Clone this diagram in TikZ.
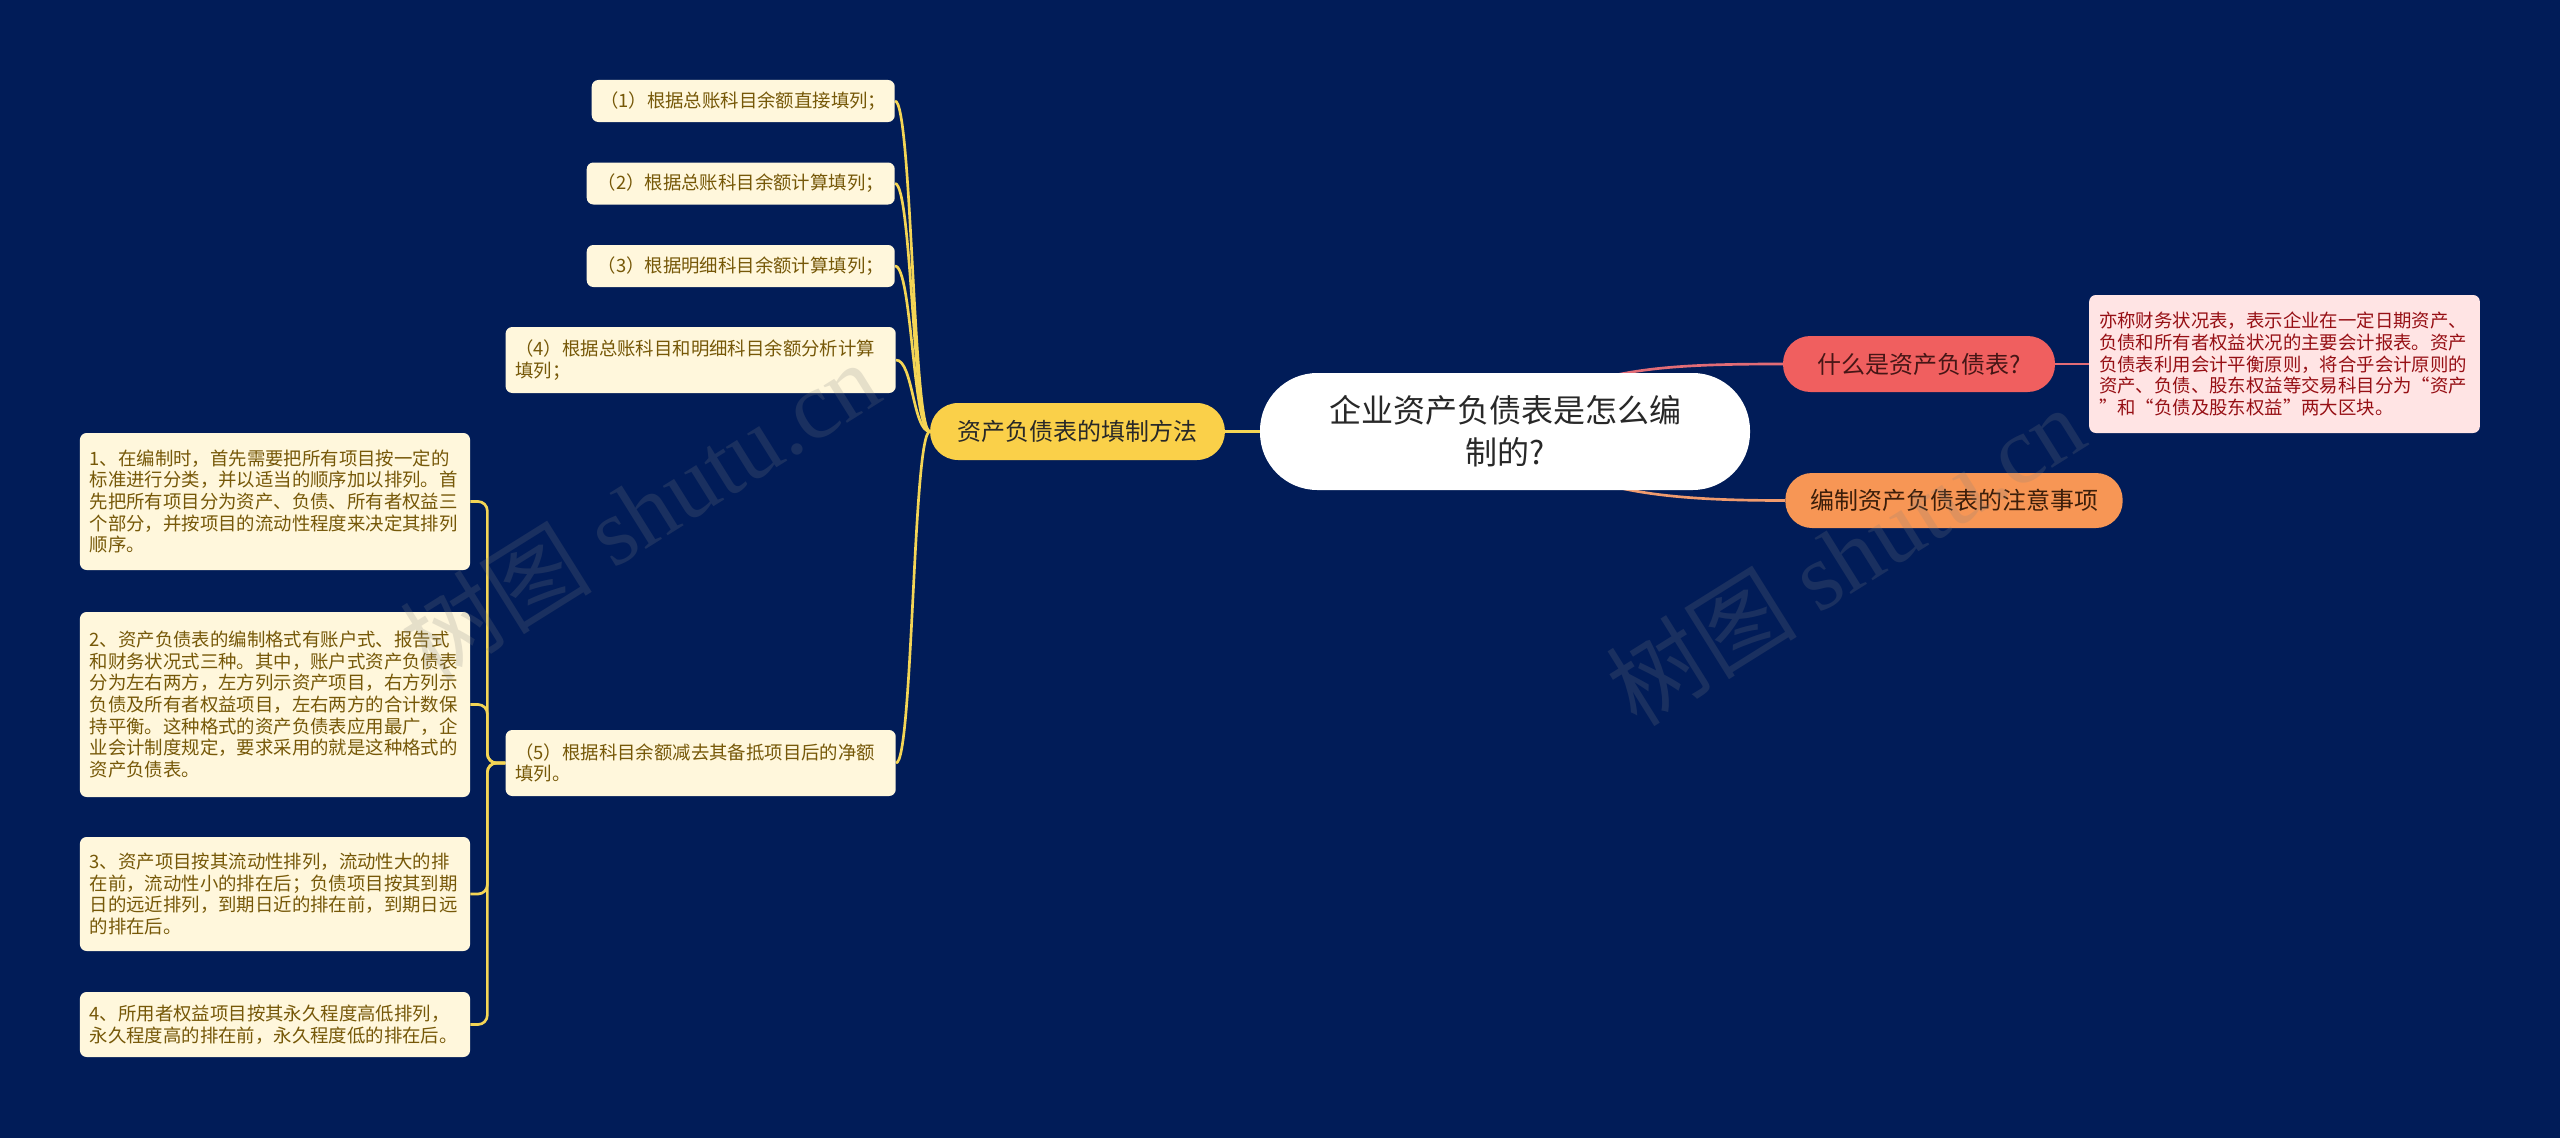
\documentclass[tikz,border=0pt]{standalone}
\usepackage{fontspec}
\setmainfont{Noto Sans CJK SC}
\newfontfamily\wmfont{Liberation Serif}
\definecolor{bgc}{RGB}{1,28,88}
\definecolor{yline}{RGB}{244,213,85}
\definecolor{mainfill}{RGB}{250,208,73}
\definecolor{leaffill}{RGB}{255,247,220}
\definecolor{leaftext}{RGB}{118,88,8}
\definecolor{textdark}{RGB}{40,40,40}
\definecolor{redfill}{RGB}{240,95,95}
\definecolor{redtext}{RGB}{70,22,22}
\definecolor{orangefill}{RGB}{247,150,85}
\definecolor{orangetext}{RGB}{60,30,10}
\definecolor{pinkfill}{RGB}{255,228,228}
\definecolor{pinktext}{RGB}{150,15,20}
\definecolor{rline}{RGB}{226,108,118}
\definecolor{oline}{RGB}{240,155,110}
\pgfdeclarelayer{bglayer}
\pgfdeclarelayer{linelayer}
\pgfsetlayers{bglayer,linelayer,main}
\begin{document}
\begin{tikzpicture}[x=0.75pt,y=-0.75pt,
  central/.style={fill=white, rounded corners=43pt, minimum width=367.5pt, minimum height=87.75pt,
    font=\fontsize{24pt}{31.5pt}\selectfont, text=textdark, align=center, inner sep=0pt},
  mainn/.style={fill=mainfill, rounded corners=21pt, minimum width=221pt, minimum height=42.75pt,
    font=\fontsize{18pt}{22pt}\selectfont, text=textdark, inner sep=0pt},
  redn/.style={fill=redfill, rounded corners=20.5pt, minimum width=204pt, minimum height=42pt,
    font=\fontsize{18pt}{22pt}\selectfont, text=redtext, inner sep=0pt},
  orangen/.style={fill=orangefill, rounded corners=20pt, minimum width=253pt, minimum height=41.25pt,
    font=\fontsize{18pt}{22pt}\selectfont, text=orangetext, inner sep=0pt},
  leaf/.style={fill=leaffill, rounded corners=5pt, text=leaftext,
    font=\fontsize{13.8pt}{16.2pt}\selectfont, inner sep=0pt, minimum height=31.5pt},
  leafm/.style={leaf, text width=278pt, align=left, inner xsep=7.3pt, inner ysep=0pt},
  pinkbox/.style={fill=pinkfill, rounded corners=5pt, text=pinktext,
    font=\fontsize{13.8pt}{16.2pt}\selectfont, text width=278pt, align=left,
    inner xsep=7.5pt, inner ysep=0pt, minimum height=103.5pt},
  ylinkk/.style={draw=yline, line width=2pt},
  rlink/.style={draw=rline, line width=2pt},
  olink/.style={draw=oline, line width=2pt},
  wm/.style={text=gray, opacity=0.2, font=\fontsize{72pt}{74pt}\selectfont, inner sep=0pt}
]
\begin{pgfonlayer}{bglayer}
\fill[bgc] (0,0) rectangle (2560,1138);
\end{pgfonlayer}

% central and main nodes
\node[central] (c) at (1505,431.5) {企业资产负债表是怎么编\\制的?};
\node[mainn] (m) at (1077.5,431.5) {资产负债表的填制方法};
\node[redn] (r) at (1919,364) {什么是资产负债表?};
\node[orangen] (o) at (1954,500.5) {编制资产负债表的注意事项};
\node[pinkbox] (p) at (2284.5,364) {亦称财务状况表，表示企业在一定日期资产、\\负债和所有者权益状况的主要会计报表。资产\\负债表利用会计平衡原则，将合乎会计原则的\\资产、负债、股东权益等交易科目分为“资产\\”和“负债及股东权益”两大区块。};

% first-level children of the left branch
\node[leaf, anchor=east, minimum width=227.25pt] (a1) at (895,101) {（1）根据总账科目余额直接填列；};
\node[leaf, anchor=east, minimum width=231pt] (a2) at (895,183.5) {（2）根据总账科目余额计算填列；};
\node[leaf, anchor=east, minimum width=231pt] (a3) at (895,266) {（3）根据明细科目余额计算填列；};
\node[leafm, anchor=east, minimum height=49.5pt] (a4) at (896,360) {（4）根据总账科目和明细科目余额分析计算\\填列；};
\node[leafm, anchor=east, minimum height=49.5pt] (a5) at (896,763) {（5）根据科目余额减去其备抵项目后的净额\\填列。};

% second-level children
\node[leafm, minimum height=102.75pt] (b1) at (275,501.5) {1、在编制时，首先需要把所有项目按一定的\\标准进行分类，并以适当的顺序加以排列。首\\先把所有项目分为资产、负债、所有者权益三\\个部分，并按项目的流动性程度来决定其排列\\顺序。};
\node[leafm, minimum height=138.75pt] (b2) at (275,704.5) {2、资产负债表的编制格式有账户式、报告式\\和财务状况式三种。其中，账户式资产负债表\\分为左右两方，左方列示资产项目，右方列示\\负债及所有者权益项目，左右两方的合计数保\\持平衡。这种格式的资产负债表应用最广，企\\业会计制度规定，要求采用的就是这种格式的\\资产负债表。};
\node[leafm, minimum height=85.5pt] (b3) at (275,894) {3、资产项目按其流动性排列，流动性大的排\\在前，流动性小的排在后；负债项目按其到期\\日的远近排列，到期日近的排在前，到期日远\\的排在后。};
\node[leafm, minimum height=48.75pt] (b4) at (275,1024.5) {4、所用者权益项目按其永久程度高低排列，\\永久程度高的排在前，永久程度低的排在后。};

% connectors
\begin{pgfonlayer}{linelayer}
\draw[ylinkk] (c.west) -- (m.east);
\foreach \n in {a1,a2,a3,a4,a5}
  \draw[ylinkk] (m.west) .. controls +(-17,0) and +(17,0) .. (\n.east);
\foreach \n in {b1,b2,b3,b4}
  \draw[ylinkk, rounded corners=7pt] (a5.west) -- ++(-18,0) |- (\n.east);
\draw[rlink] (c.center) .. controls +(65,-62) and +(-133,0) .. (r.west);
\draw[olink] (c.center) .. controls +(65,58) and +(-135,0) .. (o.west);
\draw[rlink] (r.east) -- (p.west);
\end{pgfonlayer}

% watermarks
\node[wm, rotate=32] (w1) at (640,510) {树图 {\wmfont shutu.cn}};
\node[wm, rotate=32] (w2) at (1845,555) {树图 {\wmfont shutu.cn}};
\end{tikzpicture}
\end{document}
